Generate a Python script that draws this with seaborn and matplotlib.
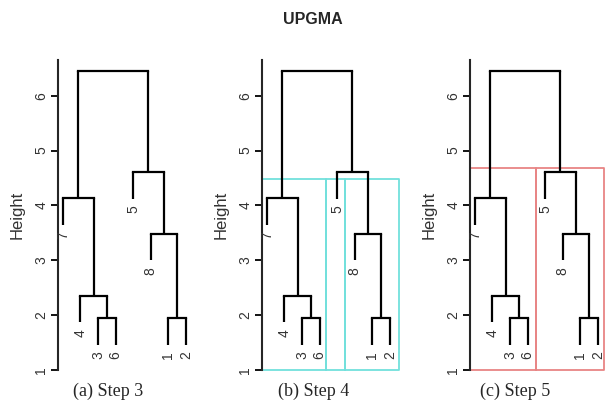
import matplotlib.pyplot as plt
import seaborn as sns

# leaf order along the x axis (R hclust style)
leaf_labels = ["7", "4", "3", "6", "5", "8", "1", "2"]
# merges: negative = leaf position, positive = earlier merge number
merge_left = [-3, -7, -2, -6, -1, -5, 5]
merge_right = [-4, -8, 1, 2, 3, 4, 6]
merge_height = [1.94, 1.94, 2.35, 3.48, 4.13, 4.60, 6.45]
hang = 0.48

steps = ["(a) Step 3", "(b) Step 4", "(c) Step 5"]
y_ticks = [1, 2, 3, 4, 5, 6]

# cluster boxes (x edges between clusters, box top)
box_b_edges = [0.72, 4.34, 5.47, 8.5]
box_b_top = 4.48
box_c_edges = [0.72, 4.5, 8.33]
box_c_top = 4.68

sns.set_style("ticks")
plt.rcParams["font.family"] = ["Liberation Sans", "DejaVu Sans"]

fig = plt.figure(figsize=(6.06, 4.03), dpi=100)
W, H = 606, 403


def draw_tree(ax):
    pos = {}
    for i, (l, r, h) in enumerate(zip(merge_left, merge_right, merge_height), start=1):
        xs = []
        for c in (l, r):
            if c < 0:
                x, y0 = -c, h - hang
                ax.text(x, y0 - 0.12, leaf_labels[-c - 1], rotation=90,
                        ha="center", va="top", fontsize=10, color="#333333",
                        clip_on=False)
            else:
                x, y0 = pos[c]
            ax.plot([x, x], [y0, h], color="black", lw=1.6, solid_capstyle="butt")
            xs.append(x)
        ax.plot(xs, [h, h], color="black", lw=1.6, solid_capstyle="projecting")
        pos[i] = ((xs[0] + xs[1]) / 2, h)


def draw_boxes(ax, edges, top, color):
    for x0, x1 in zip(edges[:-1], edges[1:]):
        ax.plot([x0, x0, x1, x1, x0], [1, top, top, 1, 1], color=color,
                lw=1.3, clip_on=False, zorder=1)


lefts = [58, 262, 470]
cap_x = [108, 314, 515]
axes = []
for k, left in enumerate(lefts):
    ax = fig.add_axes([left / W, 33 / H, 132.7 / W, 310 / H])
    draw_tree(ax)
    ax.set_xlim(0.72, 8.28)
    ax.set_ylim(1, 6.65)
    ax.set_xticks([])
    ax.set_yticks(y_ticks)
    ax.tick_params(axis="y", labelrotation=90, labelsize=10, length=5,
                   width=1.3, pad=2, colors="black", labelcolor="#333333")
    for lab in ax.get_yticklabels():
        lab.set_va("center")
    ax.set_ylabel("Height", fontsize=12, labelpad=7, color="#333333")
    for s in ["top", "right", "bottom"]:
        ax.spines[s].set_visible(False)
    ax.spines["left"].set_linewidth(1.5)
    ax.set_facecolor("none")
    fig.text(cap_x[k] / W, 1 - 391 / H, steps[k], ha="center", va="center",
             fontsize=13, family="Liberation Serif")
    axes.append(ax)

draw_boxes(axes[1], box_b_edges, box_b_top, "#72e0dc")
draw_boxes(axes[2], box_c_edges, box_c_top, "#e88585")

fig.text(313 / W, 1 - 19 / H, "UPGMA", ha="center", va="center",
         fontsize=11.5, fontweight="bold")

plt.savefig("out.png", dpi=100)
